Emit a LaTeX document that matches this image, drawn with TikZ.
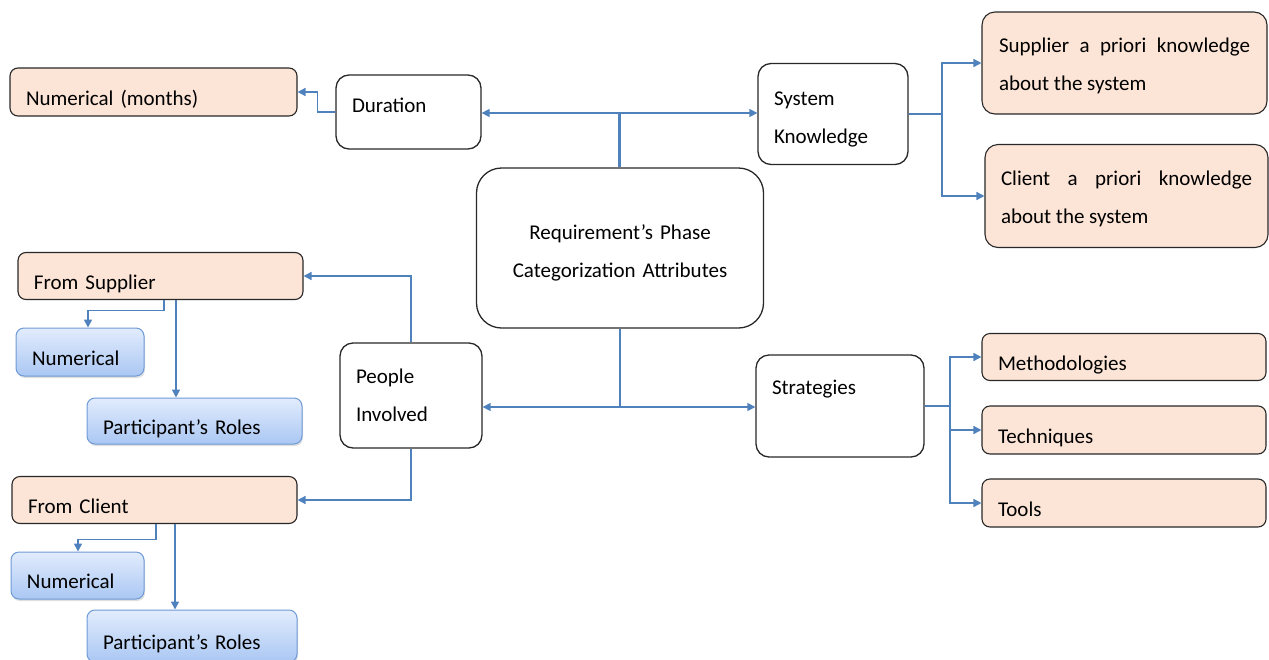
\documentclass[tikz,border=0pt]{standalone}
\usepackage{fontspec}
\setmainfont{Carlito}
\usetikzlibrary{arrows.meta,shadows}

\definecolor{peach}{RGB}{252,228,214}
\definecolor{linkblue}{RGB}{79,129,189}
\definecolor{bluetop}{RGB}{226,236,253}
\definecolor{bluebot}{RGB}{170,199,243}
\definecolor{blueedge}{RGB}{110,154,214}
\definecolor{boxedge}{RGB}{40,40,40}

\newcommand{\lift}[1]{\rule{0pt}{#1}}

\begin{document}
\begin{tikzpicture}[x = 1pt, y = -1pt,
        font = \fontsize{21}{38}\selectfont,
        every node/.style = {text = black, inner xsep = 16pt, inner ysep = 0pt},
        plain/.style = {draw = boxedge, line width = 1.3pt, rounded corners = 13pt, fill = white, align = left},
        leaf/.style = {draw = boxedge, line width = 1.1pt, rounded corners = 8pt, fill = peach, align = left, text height = 26pt, text depth = 0pt},
        item/.style = {draw = blueedge, line width = 1pt, rounded corners = 8pt, top color = bluetop, bottom color = bluebot, align = left, text height = 26pt, text depth = 0pt, drop shadow = {opacity = 0.25, shadow xshift = 1pt, shadow yshift = -2pt}},
        wire/.style = {draw = linkblue, line width = 1.5pt},
        arrow/.style = {wire, -{Triangle[length = 8pt, width = 8pt]}}]

        \useasboundingbox (0,0) rectangle (1269,659);

        \node [plain, rounded corners = 25pt, align = center, text width = 255pt, minimum height = 160pt] (reqphase) at (620,248) {\lift{24pt}Requirement’s Phase\\Categorization Attributes};

        \node [plain, text width = 113pt, minimum height = 74pt, text height = 12pt, text depth = 12pt] (duration) at (408.5,112) {Duration};
        \node [leaf, text width = 255pt, minimum height = 48pt] (nummonths) at (153.5,92) {Numerical (months)};

        \node [plain, text width = 118pt, minimum height = 101pt] (sysknow) at (833,114) {\lift{25pt}System\\Knowledge};
        \node [leaf, align = justify, text height = , text depth = , text width = 251pt, minimum width = 285pt, minimum height = 102pt, rounded corners = 13pt] (supknow) at (1124.5,63) {\lift{20pt}Supplier a priori knowledge\linebreak about the system};
        \node [leaf, align = justify, text height = , text depth = , text width = 251pt, minimum width = 283pt, minimum height = 103pt, rounded corners = 13pt] (cliknow) at (1126.5,196) {\lift{21pt}Client a priori knowledge\linebreak about the system};

        \node [plain, text width = 110pt, minimum height = 105pt] (people) at (411,395.5) {People\\Involved};
        \node [leaf, text width = 253pt, minimum height = 47pt] (fromsup) at (160.5,276) {From Supplier};
        \node [item, text width = 96pt, minimum height = 48pt] (supnum) at (80,352) {Numerical};
        \node [item, text width = 183pt, minimum height = 46pt] (suproles) at (194.5,421) {Participant’s Roles};
        \node [leaf, text width = 253pt, minimum height = 47pt] (fromcli) at (154.5,500) {From Client};
        \node [item, text width = 101pt, minimum height = 47pt] (clinum) at (77.5,575.5) {Numerical};
        \node [item, text width = 178pt, minimum height = 52pt] (cliroles) at (192,636) {Participant’s Roles};

        \node [plain, text width = 136pt, minimum height = 102pt] (strategies) at (840,406) {Strategies\\\mbox{}};
        \node [leaf, text width = 252pt, minimum height = 47pt] (methods) at (1124,357) {Methodologies};
        \node [leaf, text width = 252pt, minimum height = 48pt] (techniques) at (1124,430) {Techniques};
        \node [leaf, text width = 252pt, minimum height = 48pt] (tools) at (1124,503) {Tools};

        \coordinate (topj) at (619.5,113);
        \coordinate (botj) at (620,407);
        \coordinate (skj) at (942,114);
        \coordinate (stj) at (950,406);

        \draw [wire, line width = 3pt] ([xshift = -0.5pt]reqphase.north) -- (topj);
        \draw [arrow] (topj) -- (topj -| duration.east);
        \draw [arrow] (topj) -- (topj -| sysknow.west);
        \draw [arrow] (reqphase.south) -- (botj) -- (botj -| people.east);
        \draw [arrow] (botj) -- (botj -| strategies.west);

        \draw [arrow] (duration.west) -- ++(-18,0) |- (nummonths.east);

        \draw [arrow] (sysknow.east) -- (skj) |- (supknow.west);
        \draw [arrow] (skj) |- (cliknow.west);

        \draw [arrow] (strategies.east) -- (stj) |- (methods.west);
        \draw [arrow] (stj) |- (techniques.west);
        \draw [arrow] (stj) |- (tools.west);

        \draw [arrow] (people.north) |- (fromsup.east);
        \draw [arrow] (people.south) |- (fromcli.east);

        \draw [arrow] ([xshift = 3.5pt]fromsup.south) -- ++(0,10.5) -| ([xshift = 8pt]supnum.north);
        \draw [arrow] ([xshift = 15.5pt]fromsup.south) -- ([xshift = 15.5pt]fromsup.south |- suproles.north);
        \draw [arrow] ([xshift = 1.5pt]fromcli.south) -- ++(0,15.5) -| ([xshift = 0.5pt]clinum.north);
        \draw [arrow] ([xshift = 20.5pt]fromcli.south) -- ([xshift = 20.5pt]fromcli.south |- cliroles.north);
    \end{tikzpicture}
\end{document}
